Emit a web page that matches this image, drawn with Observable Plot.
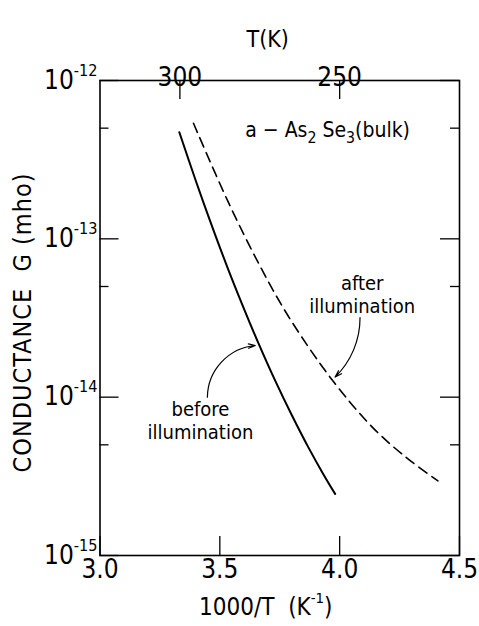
<!DOCTYPE html>
<html><head><meta charset="utf-8">
<script src="https://cdn.jsdelivr.net/npm/d3@7"></script>
<script src="https://cdn.jsdelivr.net/npm/@observablehq/plot@0.6"></script>
<style>
body{margin:0;background:#fff;}
svg{display:block;}
</style></head><body><div id="chart"></div>
<script>
// ---- data ----
const xTicks = [3.0, 3.5, 4.0, 4.5];
const tTicks = [300, 250];
const yMajor = [1e-12, 1e-13, 1e-14, 1e-15];
const yMinor = [5e-13, 5e-14, 5e-15];

const beforeX = [3.331, 3.40, 3.46, 3.53, 3.60, 3.66, 3.73, 3.80, 3.87, 3.93, 3.981];
const beforeG = [4.71e-13, 2.32e-13, 1.29e-13, 6.71e-14, 3.64e-14, 2.21e-14, 1.28e-14, 7.71e-15, 4.80e-15, 3.30e-15, 2.45e-15];
const afterX = [3.390, 3.531, 3.669, 3.794, 3.973, 4.140, 4.281, 4.410];
const afterG = [5.37e-13, 1.76e-13, 6.67e-14, 3.10e-14, 1.26e-14, 6.38e-15, 4.12e-15, 2.96e-15];

const xTitle = "1000/T  (K^{-1})";
const topTitle = "T(K)";
const yTitle = "CONDUCTANCE  G (mho)";
const sampleLabel = "a − As_{2} Se_{3}(bulk)";
const beforeLabel = "before\nillumination";
const afterLabel = "after\nillumination";

// ---- layout ----
const W = 479, H = 626;
const mL = 99.5, mR = 20, mT = 80, mB = 71;
const frameW = W - mL - mR;
const frameH = H - mT - mB;
const majorLen = 19, minorLen = 9;
const FONT = '"DejaVu Sans Condensed", "DejaVu Sans", sans-serif';

const before = beforeX.map((x, i) => ({x, g: beforeG[i]}));
const after = afterX.map((x, i) => ({x, g: afterG[i]}));

const tick = {stroke: "black", strokeWidth: 1.3};

const chart = Plot.plot({
  width: W, height: H,
  marginLeft: mL, marginRight: mR, marginTop: mT, marginBottom: mB,
  style: {fontFamily: FONT, background: "white", color: "black"},
  x: {domain: [3.0, 4.5], axis: null},
  y: {type: "log", domain: [1e-15, 1e-12], axis: null},
  marks: [
    // inward ticks
    Plot.ruleX(xTicks, {x: d => d, insetTop: frameH - majorLen, ...tick}),
    Plot.ruleX(tTicks, {x: t => 1000 / t, insetBottom: frameH - majorLen, ...tick}),
    Plot.ruleY(yMajor, {y: d => d, insetRight: frameW - majorLen, ...tick}),
    Plot.ruleY(yMajor, {y: d => d, insetLeft: frameW - majorLen, ...tick}),
    Plot.ruleY(yMinor, {y: d => d, insetRight: frameW - minorLen, ...tick}),
    Plot.ruleY(yMinor, {y: d => d, insetLeft: frameW - minorLen, ...tick}),
    Plot.frame({stroke: "black", strokeWidth: 1.6}),
    // tick labels
    Plot.text(xTicks, {x: d => d, frameAnchor: "bottom", dy: 22, text: d => d.toFixed(1), fontSize: 26}),
    Plot.text(tTicks, {x: t => 1000 / t, frameAnchor: "top", dy: -13, text: d => String(d), fontSize: 26}),
    Plot.text(yMajor, {y: d => d, frameAnchor: "left", dx: -2.5, textAnchor: "end",
      text: d => `10^{${Math.round(Math.log10(d))}}`, fontSize: 26}),
    // axis titles
    Plot.text([xTitle], {frameAnchor: "bottom", textAnchor: "middle", dx: -14, dy: 59, fontSize: 24}),
    Plot.text([topTitle], {frameAnchor: "top", textAnchor: "middle", dx: -12, dy: -50, fontSize: 23}),
    Plot.text([yTitle], {frameAnchor: "left", textAnchor: "middle", dx: -77.5, dy: 4.5, rotate: -90, fontSize: 25}),
    // curves
    Plot.line(before, {x: "x", y: "g", curve: "catmull-rom", stroke: "black", strokeWidth: 2}),
    Plot.line(after, {x: "x", y: "g", curve: "catmull-rom", stroke: "black", strokeWidth: 1.6, strokeDasharray: "10,6"}),
    // annotations
    Plot.text([sampleLabel], {x: () => 3.606, y: () => 4.85e-13, textAnchor: "start", fontSize: 21}),
    Plot.text([beforeLabel], {x: () => 3.419, y: () => 7.16e-15, fontSize: 20, lineHeight: 1.15}),
    Plot.text([afterLabel], {x: () => 4.094, y: () => 4.45e-14, fontSize: 20, lineHeight: 1.15}),
    Plot.arrow([0], {x1: () => 3.448, y1: () => 1.0e-14, x2: () => 3.648, y2: () => 2.12e-14,
      bend: 42, headLength: 9, headAngle: 35, strokeWidth: 1.2, stroke: "black"}),
    Plot.arrow([0], {x1: () => 4.085, y1: () => 3.18e-14, x2: () => 3.981, y2: () => 1.34e-14,
      bend: 23, headLength: 9, headAngle: 35, strokeWidth: 1.2, stroke: "black"})
  ]
});

document.getElementById("chart").appendChild(chart);

// rich text: ^{..} superscript, _{..} subscript
d3.select(chart).selectAll("text").each(function() {
  const t = this;
  if (t.querySelector("tspan")) return;
  const s = t.textContent;
  if (!/[_^]\{/.test(s)) return;
  const fs = parseFloat(getComputedStyle(t).fontSize);
  t.textContent = "";
  const re = /([_^])\{([^}]*)\}/g;
  let last = 0, m, shift = 0;
  const add = (str, kind) => {
    if (!str) return;
    const ts = document.createElementNS("http://www.w3.org/2000/svg", "tspan");
    ts.textContent = str;
    let target = 0;
    if (kind === "^") { target = -0.5 * fs; ts.setAttribute("font-size", 0.62 * fs); }
    if (kind === "_") { target = 0.3 * fs; ts.setAttribute("font-size", 0.75 * fs); }
    const d = target - shift;
    if (d) ts.setAttribute("dy", d);
    shift = target;
    t.appendChild(ts);
  };
  while ((m = re.exec(s))) {
    add(s.slice(last, m.index), null);
    add(m[2], m[1]);
    last = re.lastIndex;
  }
  add(s.slice(last), null);
});
d3.select(chart).selectAll("text").filter(function() { return this.textContent.startsWith("CONDUCTANCE"); })
  .attr("letter-spacing", 1);
</script></body></html>
